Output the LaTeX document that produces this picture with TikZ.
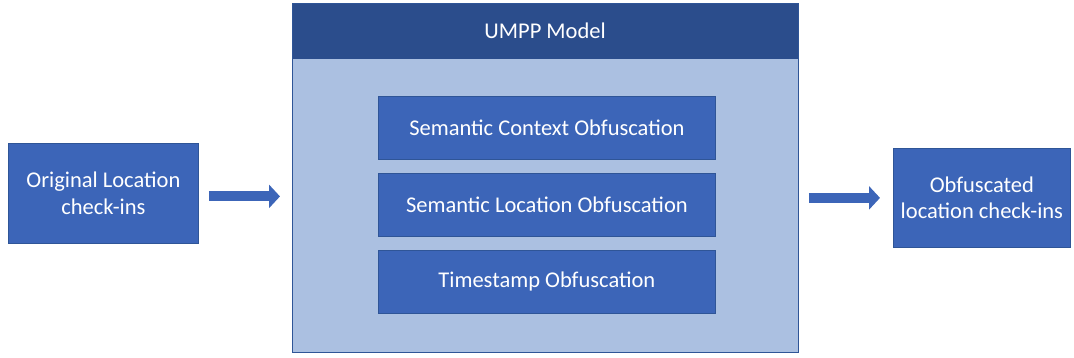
\documentclass[tikz,border=0pt]{standalone}
\usepackage{fontspec}
\setmainfont{Carlito}
\usetikzlibrary{arrows.meta,positioning}
\definecolor{boxblue}{HTML}{3C65B8}
\definecolor{boxedge}{HTML}{2F5597}
\definecolor{headblue}{HTML}{2B4D8C}
\definecolor{paleblue}{HTML}{ABC0E1}
\tikzset{
  labelfont/.style={font=\fontsize{22.5}{26.5}\selectfont},
  bluebox/.style={draw=boxedge, line width=0.8pt, fill=boxblue, text=white,
    labelfont, align=center, inner sep=0pt},
  flowarrow/.style={draw=boxblue, line width=10pt,
    -{Triangle[length=11pt,width=23pt]}},
}
\begin{document}
\begin{tikzpicture}[x=1pt,y=-1pt]
  \useasboundingbox (0,0) rectangle (1074,358);
  % model container with its header band
  \node[draw=boxedge, line width=0.8pt, fill=paleblue, minimum width=506pt, minimum height=349pt,
        inner sep=0pt, anchor=north west] (model) at (292,3) {};
  \node[fill=headblue, minimum width=505pt, minimum height=55pt, inner sep=0pt,
        anchor=north west, text=white, labelfont] (header) at (292.4,3.4) {UMPP Model};
  % obfuscation stages
  \node[bluebox, minimum width=337pt, minimum height=63pt, anchor=north west] (ctx) at (378,96) {Semantic Context Obfuscation};
  \node[bluebox, minimum width=337pt, minimum height=63pt, anchor=north west] (loc) at (378,173) {Semantic Location Obfuscation};
  \node[bluebox, minimum width=337pt, minimum height=63pt, anchor=north west] (ts) at (378,250) {Timestamp Obfuscation};
  % input and output
  \node[bluebox, minimum width=190pt, minimum height=100pt, anchor=north west] (in) at (8,143) {Original Location\\check-ins};
  \node[bluebox, minimum width=177pt, minimum height=99pt, anchor=north west] (out) at (893,148) {Obfuscated\\location check-ins};
  % connector end points
  \coordinate (inArrow) at ([xshift=10pt,yshift=-3pt]in.east);
  \coordinate (modelIn) at ([xshift=-12pt]model.west |- inArrow);
  \coordinate (modelOut) at ([xshift=10pt]model.east |- out.west);
  % connectors
  \draw[flowarrow] (inArrow) -- (modelIn);
  \draw[flowarrow] (modelOut) -- ([xshift=-13pt]out.west);
\end{tikzpicture}
\end{document}
